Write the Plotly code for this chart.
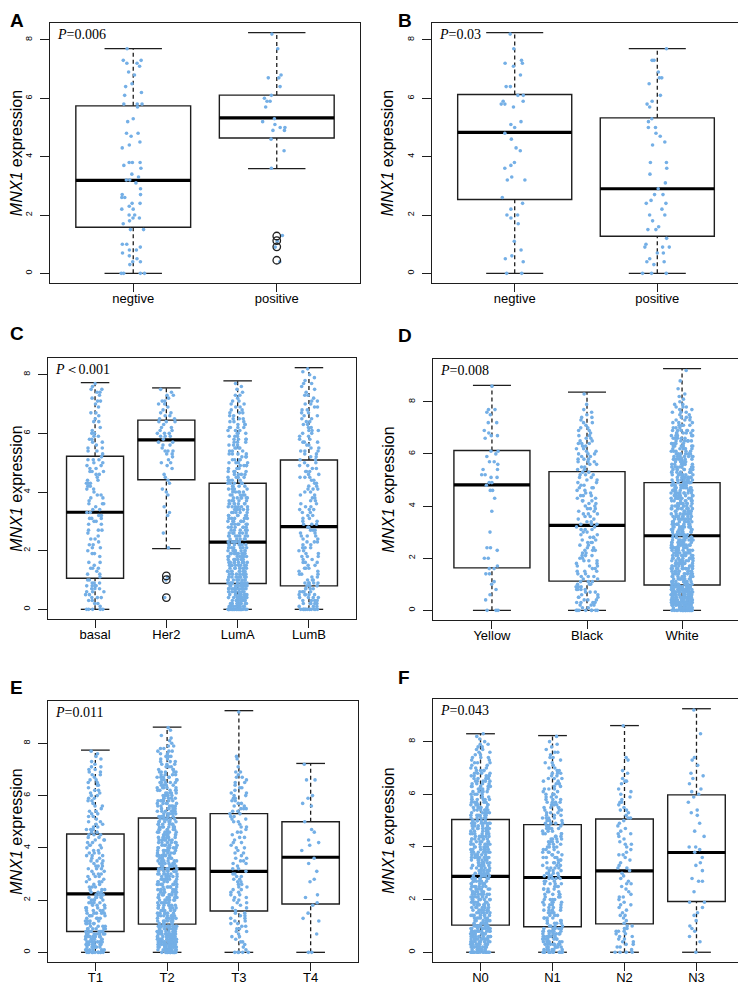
import plotly.graph_objects as go

# Box statistics per group (lower whisker, Q1, median, Q3, upper whisker)
# Point counts: one base-36 digit per 0.1 step of expression, starting at 0.0
# (blocks of ten digits = one unit, spaces only for reading)

A_groups = ["negtive", "positive"]
A_low = [0, 3.59]
A_q1 = [1.58, 4.64]
A_med = [3.19, 5.33]
A_q3 = [5.74, 6.11]
A_high = [7.70, 8.25]
A_out = [[], [1.28, 1.12, 0.91, 0.45]]
A_counts = ["4001211121 2000020112 2021202201 0121101130 0001110120 0011000130 0110110011 01220001",
            "0000100001 0101000000 0000000000 0000001000 0010001002 2111000102 1100100210 0000000100 001"]
A_p = "<i>P</i>=0.006"

B_groups = ["negtive", "positive"]
B_low = [0, 0]
B_q1 = [2.53, 1.27]
B_med = [4.83, 2.90]
B_q3 = [6.13, 5.33]
B_high = [8.25, 7.70]
B_out = [[], []]
B_counts = ["2000111010 0100000101 2010101000 0021001110 0011001010 1110000122 0200200010 0121000100 001",
            "3001210203 1010021010 2010210201 0100101020 0000110110 2011000111 0100010201 00020001"]
B_p = "<i>P</i>=0.03"

C_groups = ["basal", "Her2", "LumA", "LumB"]
C_low = [0, 2.07, 0, 0]
C_q1 = [1.06, 4.42, 0.88, 0.80]
C_med = [3.31, 5.78, 2.29, 2.82]
C_q3 = [5.22, 6.45, 4.30, 5.09]
C_high = [7.73, 7.55, 7.79, 8.24]
C_out = [[], [1.14, 1.01, 0.40], [], []]
C_counts = ["5122323343 2121312012 1221211302 2322213122 1223212322 2311221222 2110211201 12112211",
            "0000100000 1100000000 0100001000 0011010001 1101111011 2112312213 3221322211 221211",
            "p9abab9cab 9a8989a889 8786576566 6565667565 5545444434 4434343343 3343332322 22121111",
            "c354454435 3232323232 2323232323 2222322222 2322232322 2222322322 2322222222 2212111211 111"]
C_p = "<i>P</i>＜0.001"

D_groups = ["Yellow", "Black", "White"]
D_low = [0, 0, 0]
D_q1 = [1.63, 1.12, 0.97]
D_med = [4.81, 3.26, 2.86]
D_q3 = [6.13, 5.32, 4.90]
D_high = [8.63, 8.37, 9.27]
D_out = [[], [], []]
D_counts = ["3000101010 1100202100 2001200000 1000000010 0001002012 0220201201 1200001211 0020011200 0000001",
            "8234332343 3323232323 2323223232 2323222323 2232322322 2232222332 3222322212 2121211101 0001",
            "peghgihghi 9a9899a989 9899a98998 9898989889 9889898989 7878777677 6566565656 3433323232 1111010010 001"]
D_p = "<i>P</i>=0.008"

E_groups = ["T1", "T2", "T3", "T4"]
E_low = [0, 0, 0, 0]
E_q1 = [0.80, 1.08, 1.58, 1.85]
E_med = [2.24, 3.20, 3.10, 3.64]
E_q3 = [4.53, 5.14, 5.31, 5.00]
E_high = [7.74, 8.62, 9.25, 7.23]
E_out = [[], [], [], []]
E_counts = ["c677867786 4544454445 4543332323 3233232332 2323232322 2122212122 2221222122 22111111",
            "fbcbcdcbcc c676767676 7676767676 7667676767 7676767676 6665656565 5555454545 3333232322 1111011",
            "5111212122 2222221212 2222222222 2121222121 2121212121 2222232222 2212121212 0100110000 0000000000 001",
            "2000000100 0011010011 0110000110 0100101001 0111001100 1000001101 1000002000 001"]
E_p = "<i>P</i>=0.011"

F_groups = ["N0", "N1", "N2", "N3"]
F_low = [0, 0, 0, 0]
F_q1 = [1.03, 0.97, 1.08, 1.93]
F_med = [2.88, 2.84, 3.09, 3.79]
F_q3 = [5.04, 4.85, 5.06, 5.98]
F_high = [8.30, 8.23, 8.61, 9.25]
F_out = [[], [], [], []]
F_counts = ["iaababbaba b676767676 7676767676 6766767676 6767676767 6565656565 4545454544 3232322222 1111",
            "c677676776 4434344344 4343434344 4343434343 4344343434 3433343433 3232323232 2121212111 101",
            "4122222232 2111211121 1211112111 1121111211 1211121111 1211211211 1110121011 0001100000 0000001",
            "1000101011 1010110102 0001000210 0101101011 2000101001 0011100101 1110101110 0101100000 0001000000 001"]
F_p = "<i>P</i>=0.043"

panels = [
    (A_groups, A_low, A_q1, A_med, A_q3, A_high, A_out, A_counts, A_p),
    (B_groups, B_low, B_q1, B_med, B_q3, B_high, B_out, B_counts, B_p),
    (C_groups, C_low, C_q1, C_med, C_q3, C_high, C_out, C_counts, C_p),
    (D_groups, D_low, D_q1, D_med, D_q3, D_high, D_out, D_counts, D_p),
    (E_groups, E_low, E_q1, E_med, E_q3, E_high, E_out, E_counts, E_p),
    (F_groups, F_low, F_q1, F_med, F_q3, F_high, F_out, F_counts, F_p),
]

# layout in page pixels (746x985); the html body puts the figure 8px in
W, H = 746, 985
OFF = 8
frames = [(50, 360, 23, 283), (432, 740, 23, 283), (48, 356, 358, 619),
          (433, 741, 359, 620), (48, 358, 701, 962), (433, 744, 699, 962)]
# letter: text, page x, page y, x anchor, y anchor
letters = [("A", OFF, OFF, "left", "top"), ("B", 405, OFF, "center", "top"),
           ("C", OFF, 333, "left", "middle"), ("D", 405, 335, "center", "middle"),
           ("E", OFF, 687, "left", "middle"), ("F", 404, 677, "center", "middle")]
spread_px = [15, 15, 10, 11, 10, 10]

INK = "#1e1e1e"
DOT = "#74AFE6"


def px_x(v):
    return (v - OFF) / W


def px_y(v):
    return 1 - (v - OFF) / H


def counts_to_values(code):
    digits = code.replace(" ", "")
    vals = []
    for i, ch in enumerate(digits):
        vals += [round(i * 0.1, 1)] * int(ch, 36)
    return vals


fig = go.Figure()
shapes = []
annotations = []

for k, (groups, low, q1, med, q3, high, outl, counts, ptext) in enumerate(panels):
    n = len(groups)
    ax = "" if k == 0 else str(k + 1)
    xr_name, yr_name = "x" + ax, "y" + ax
    fx0, fx1, fy0, fy1 = frames[k]
    pad = 0.04 * n
    xrange = [0.5 - pad, n + 0.5 + pad]
    top = max(high)
    yrange = [-0.04 * top, 1.04 * top]

    # R style boxes: box, thick median, dashed whiskers, solid caps
    for i in range(n):
        p = i + 1
        common = dict(xref=xr_name, yref=yr_name, layer="below")
        shapes.append(dict(type="rect", x0=p - 0.4, x1=p + 0.4, y0=q1[i], y1=q3[i],
                           line=dict(color=INK, width=1.4), **common))
        shapes.append(dict(type="line", x0=p - 0.4, x1=p + 0.4, y0=med[i], y1=med[i],
                           line=dict(color="black", width=3.2), **common))
        shapes.append(dict(type="line", x0=p, x1=p, y0=low[i], y1=q1[i],
                           line=dict(color=INK, width=1.3, dash="4px,3px"), **common))
        shapes.append(dict(type="line", x0=p, x1=p, y0=q3[i], y1=high[i],
                           line=dict(color=INK, width=1.3, dash="4px,3px"), **common))
        for w in (low[i], high[i]):
            shapes.append(dict(type="line", x0=p - 0.2, x1=p + 0.2, y0=w, y1=w,
                               line=dict(color=INK, width=1.3), **common))

    # jittered points
    xs, ys = [], []
    for i, code in enumerate(counts):
        v = counts_to_values(code)
        xs += [i + 1] * len(v)
        ys += v
    unit_px = (fx1 - fx0) / (xrange[1] - xrange[0])
    fig.add_trace(go.Box(
        x=xs, y=ys, orientation="v", xaxis=xr_name, yaxis=yr_name,
        boxpoints="all", jitter=1, pointpos=0, width=2 * spread_px[k] / unit_px,
        line=dict(width=0, color="rgba(0,0,0,0)"), fillcolor="rgba(0,0,0,0)",
        marker=dict(size=3.6, color=DOT, line=dict(width=0)),
        hoverinfo="skip", showlegend=False,
    ))

    # outliers
    ox, oy = [], []
    for i, vals in enumerate(outl):
        ox += [i + 1] * len(vals)
        oy += vals
    if ox:
        fig.add_trace(go.Scatter(
            x=ox, y=oy, mode="markers", xaxis=xr_name, yaxis=yr_name,
            marker=dict(symbol="circle-open", size=7.5, color=INK, line=dict(width=1.3)),
            hoverinfo="skip", showlegend=False,
        ))

    fig.layout["xaxis" + ax] = dict(
        domain=[px_x(fx0), px_x(fx1)], anchor=yr_name, range=xrange,
        tickvals=list(range(1, n + 1)), ticktext=groups,
        ticks="outside", ticklen=8, tickwidth=1.2, tickcolor=INK, ticklabelstandoff=-5,
        showline=True, mirror=True, linecolor=INK, linewidth=1.4,
        showgrid=False, zeroline=False, automargin=False,
        tickfont=dict(family="Liberation Sans", size=13, color="black"),
    )
    fig.layout["yaxis" + ax] = dict(
        domain=[px_y(fy1), px_y(fy0)], anchor=xr_name, range=yrange,
        tickvals=[0, 2, 4, 6, 8], tickangle=-90,
        ticks="outside", ticklen=9, tickwidth=1.2, tickcolor=INK, ticklabelstandoff=4,
        showline=True, mirror=True, linecolor=INK, linewidth=1.4,
        showgrid=False, zeroline=False, automargin=False,
        tickfont=dict(family="Liberation Sans", size=9, color="black"),
        title=dict(text="<i>MNX1</i> expression", standoff=8,
                   font=dict(family="Liberation Sans", size=16, color="black")),
    )

    annotations.append(dict(
        text=ptext, xref=xr_name + " domain", yref=yr_name + " domain",
        x=0, y=1, xanchor="left", yanchor="top", xshift=5, yshift=-2, showarrow=False,
        font=dict(family="Liberation Serif", size=14, color="black"),
    ))

for lab, lx, ly, xa, ya in letters:
    annotations.append(dict(
        text="<b>" + lab + "</b>", xref="paper", yref="paper",
        x=px_x(lx), y=px_y(ly), xanchor=xa, yanchor=ya, showarrow=False,
        font=dict(family="Liberation Sans", size=19, color="black"),
    ))

fig.update_layout(
    template="none", width=W, height=H,
    margin=dict(l=0, r=0, t=0, b=0),
    paper_bgcolor="white", plot_bgcolor="white",
    boxmode="overlay", showlegend=False,
    shapes=shapes, annotations=annotations,
)

fig.write_html("out.html")
